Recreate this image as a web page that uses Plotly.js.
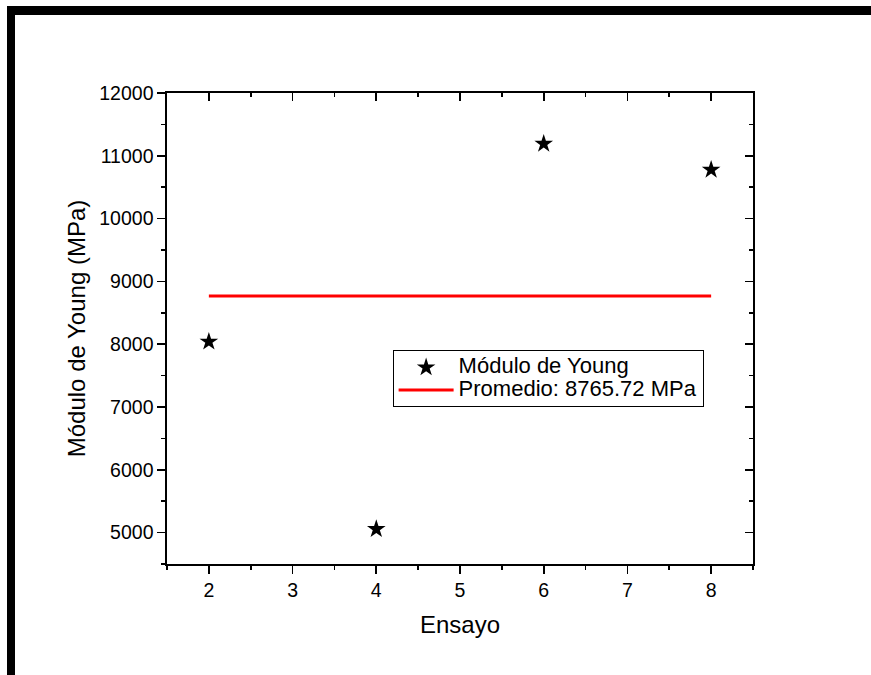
<!DOCTYPE html>
<html>
<head>
<meta charset="utf-8">
<script src="https://cdn.plot.ly/plotly-3.0.1.min.js"></script>
<style>
  html, body { margin: 0; padding: 0; background: #ffffff; }
  #wrap { position: relative; width: 871px; height: 675px; overflow: hidden; }
  #chart { position: absolute; left: 0; top: 0; width: 871px; height: 675px; }
  .bar { position: absolute; background: #000; pointer-events: none; }
</style>
</head>
<body>
<div id="wrap">
  <div id="chart"></div>
  <div class="bar" style="left:7px; top:6px; width:864px; height:9px;"></div>
  <div class="bar" style="left:7px; top:6px; width:8px; height:669px;"></div>
</div>
<script>
// Data
const ensayo = [2, 4, 6, 8];
const moduloYoung = [8040, 5055, 11190, 10778];
const promedioX = [2, 8];
const promedioValor = 8765.72;
const promedioY = [promedioValor, promedioValor];

const seriesName = 'Módulo de Young';
const promedioName = 'Promedio: ' + promedioValor.toFixed(2) + ' MPa';
const xTitle = 'Ensayo';
const yTitle = 'Módulo de Young (MPa)';

const xRange = [1.5, 8.5];
const yRange = [4500, 12000];

const FONT = 'Liberation Sans, Arial, sans-serif';
const AX_W = 1.6;
const big = (s) => '<span style="font-size:22px">' + s + '</span>';

const traces = [
  {
    x: ensayo, y: moduloYoung, type: 'scatter', mode: 'markers', name: big(seriesName),
    marker: { symbol: 'star', size: 14, color: '#000000', line: { width: 0 } }
  },
  {
    x: promedioX, y: promedioY, type: 'scatter', mode: 'lines', name: big(promedioName),
    line: { color: '#ff0000', width: 3 }
  },
  {
    x: [null], y: [null], xaxis: 'x2', yaxis: 'y2', type: 'scatter', mode: 'markers',
    showlegend: false, hoverinfo: 'skip'
  }
];

const baseAxis = {
  showgrid: false, zeroline: false, showline: true,
  linecolor: '#000000', linewidth: AX_W,
  tickcolor: '#000000', tickwidth: AX_W, ticklen: 8,
  tickfont: { family: FONT, size: 19.5, color: '#000000' },
  fixedrange: true
};

const layout = {
  width: 871, height: 675,
  margin: { l: 167, r: 118, t: 93, b: 111, pad: 0 },
  paper_bgcolor: '#ffffff', plot_bgcolor: '#ffffff',
  font: { family: FONT, color: '#000000' },
  showlegend: true,
  legend: {
    x: 0.385, y: 0.454, xanchor: 'left', yanchor: 'top',
    bgcolor: '#ffffff', bordercolor: '#000000', borderwidth: 1,
    font: { family: FONT, size: 15, color: '#000000' },
    itemwidth: 55, tracegroupgap: 0
  },
  xaxis: Object.assign({}, baseAxis, {
    range: xRange, tick0: 2, dtick: 1, ticks: 'outside',
    minor: { ticks: 'outside', dtick: 0.5, tick0: 1.5, ticklen: 4, tickwidth: AX_W, tickcolor: '#000000', showgrid: false },
    title: { text: xTitle, font: { family: FONT, size: 24, color: '#000000' }, standoff: 16 }
  }),
  yaxis: Object.assign({}, baseAxis, {
    range: yRange, tick0: 5000, dtick: 1000, ticks: 'outside', tickformat: 'd',
    minor: { ticks: 'outside', dtick: 500, ticklen: 4, tickwidth: AX_W, tickcolor: '#000000', showgrid: false },
    title: { text: yTitle, font: { family: FONT, size: 24, color: '#000000' }, standoff: 7 }
  }),
  xaxis2: Object.assign({}, baseAxis, {
    overlaying: 'x', side: 'top', anchor: 'y2', range: xRange, tick0: 2, dtick: 1,
    ticks: 'inside', showticklabels: false,
    minor: { ticks: 'inside', dtick: 0.5, tick0: 1.5, ticklen: 4, tickwidth: AX_W, tickcolor: '#000000', showgrid: false }
  }),
  yaxis2: Object.assign({}, baseAxis, {
    overlaying: 'y', side: 'right', anchor: 'x2', range: yRange, tick0: 5000, dtick: 1000,
    ticks: 'inside', showticklabels: false,
    minor: { ticks: 'inside', dtick: 500, ticklen: 4, tickwidth: AX_W, tickcolor: '#000000', showgrid: false }
  })
};

Plotly.newPlot('chart', traces, layout, { displayModeBar: false, staticPlot: true });
</script>
</body>
</html>
